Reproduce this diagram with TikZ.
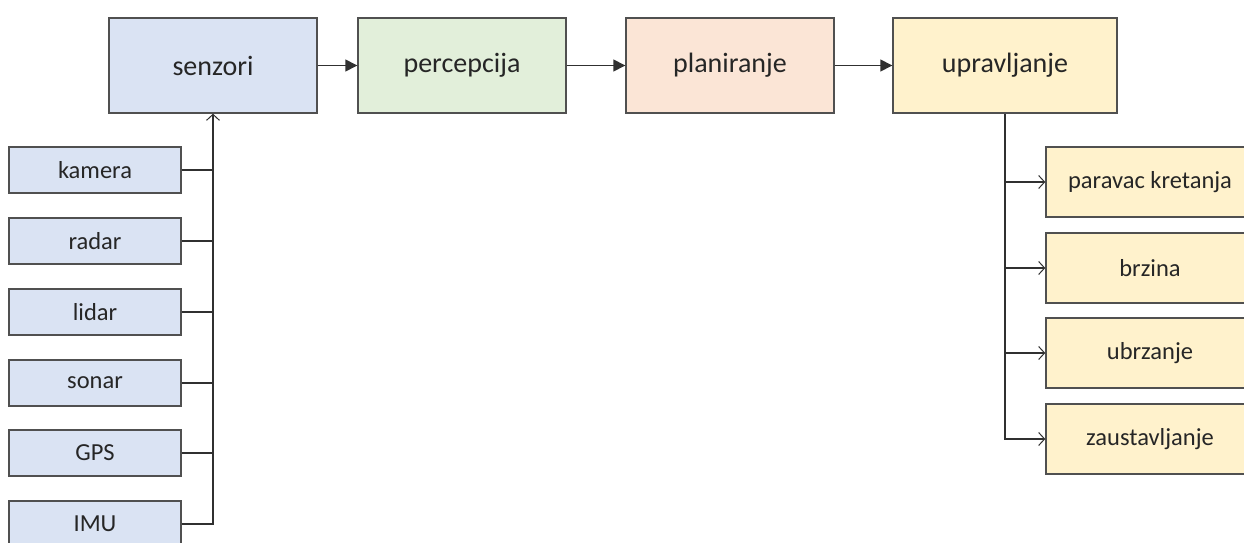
\documentclass[tikz,border=0pt]{standalone}
\usepackage{fontspec}
\setmainfont{Carlito}
\usetikzlibrary{arrows.meta}
\definecolor{cblue}{HTML}{DAE3F3}
\definecolor{cgreen}{HTML}{E2EFDA}
\definecolor{cpeach}{HTML}{FBE5D6}
\definecolor{cyellow}{HTML}{FFF2CC}
\definecolor{cborder}{HTML}{505050}
\definecolor{cline}{HTML}{303030}
\tikzset{
  mainbox/.style={draw=cborder, line width=1.4pt, minimum width=208pt, minimum height=95pt, inner sep=0pt, font=\fontsize{28}{32}\selectfont, text=black!85},
  subbox/.style={draw=cborder, line width=1.4pt, minimum width=172pt, minimum height=46pt, inner sep=0pt, fill=cblue, font=\fontsize{24.5}{28}\selectfont, text=black!85},
  outbox/.style={draw=cborder, line width=1.4pt, minimum width=208pt, minimum height=70pt, inner sep=0pt, fill=cyellow, font=\fontsize{24.5}{28}\selectfont, text=black!85},
  mainarrow/.style={draw=cline, line width=1.4pt, -{Triangle[length=12pt,width=12pt]}},
  openarrow/.style={draw=cline, line width=1.4pt, -{Straight Barb[length=6pt,width=13pt,line width=1pt]}},
  plainline/.style={draw=cline, line width=1.4pt}
}
\begin{document}
\begin{tikzpicture}[x=1pt,y=-1pt]
\clip (0,0) rectangle (1244,543);
\fill[white] (0,0) rectangle (1244,543);
% main row
\node[mainbox, fill=cblue] (senzori) at (213,65.5) {senzori};
\node[mainbox, fill=cgreen] (percepcija) at (462,65.5) {percepcija};
\node[mainbox, fill=cpeach] (planiranje) at (730,65.5) {planiranje};
\node[mainbox, fill=cyellow, minimum width=224pt] (upravljanje) at (1005,65.5) {upravljanje};
\draw[mainarrow] (senzori) -- (percepcija);
\draw[mainarrow] (percepcija) -- (planiranje);
\draw[mainarrow] (planiranje) -- (upravljanje);
% sensors
\node[subbox] (kamera) at (95,170) {kamera};
\node[subbox] (radar) at (95,241) {radar};
\node[subbox] (lidar) at (95,312) {lidar};
\node[subbox] (sonar) at (95,383) {sonar};
\node[subbox] (gps) at (95,453) {GPS};
\node[subbox] (imu) at (95,524) {IMU};
\draw[openarrow] (imu.east) -| (senzori.south);
\foreach \n in {kamera,radar,lidar,sonar,gps}
  \draw[plainline] (\n.east) -- (\n.east -| senzori.south);
% outputs
\node[outbox] (pravac) at (1150,182) {paravac kretanja};
\node[outbox] (brzina) at (1150,268) {brzina};
\node[outbox] (ubrzanje) at (1150,353) {ubrzanje};
\node[outbox] (zaust) at (1150,439) {zaustavljanje};
\draw[openarrow] (upravljanje.south) |- (zaust.west);
\foreach \n in {pravac,brzina,ubrzanje}
  \draw[openarrow] (upravljanje.south |- \n.west) -- (\n.west);
\end{tikzpicture}
\end{document}
